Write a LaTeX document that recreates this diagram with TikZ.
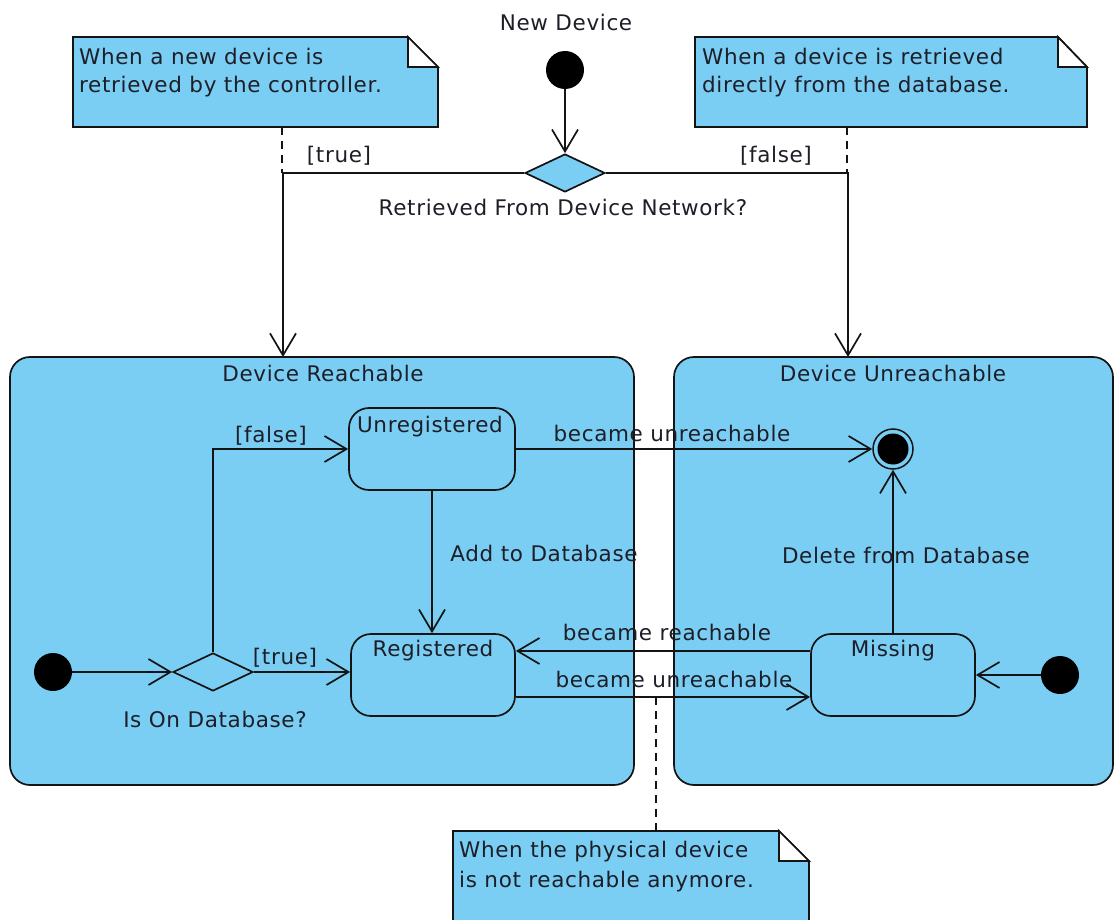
\documentclass[tikz,border=0pt]{standalone}
\usepackage{fontspec}
\setmainfont{DejaVu Sans}[LetterSpace=3]
\usetikzlibrary{arrows.meta,shapes.geometric}

\definecolor{umlblue}{RGB}{122,206,243}
\definecolor{inkc}{RGB}{20,20,20}
\definecolor{textc}{RGB}{30,30,40}

\tikzset{
  lbl/.style={font=\fontsize{21.5pt}{26pt}\selectfont, text=textc, inner sep=0pt, anchor=base},
  composite/.style={draw=inkc, fill=umlblue, line width=1.7pt, rounded corners=20pt, inner sep=0pt},
  simplestate/.style={composite},
  startdot/.style={circle, fill=black, minimum size=38pt, inner sep=0pt},
  enddot/.style={circle, draw=inkc, line width=1.5pt, minimum size=40pt, inner sep=0pt},
  choice/.style={diamond, draw=inkc, fill=umlblue, line width=1.7pt, minimum width=80pt, minimum height=38pt, inner sep=0pt},
  trans/.style={draw=inkc, line width=1.7pt, -{Straight Barb[length=22pt,width=26pt]}},
  anchorline/.style={draw=inkc, line width=1.7pt, dash pattern=on 8pt off 6pt},
  notebody/.style={draw=inkc, fill=umlblue, line width=1.7pt, line join=miter},
  noteflap/.style={draw=inkc, fill=white, line width=1.7pt, line join=miter},
}

\begin{document}
\begin{tikzpicture}[x=1pt,y=-1pt]
\useasboundingbox (0,0) rectangle (1114,920);
\clip (0,0) rectangle (1114,920);
\fill[white] (0,0) rectangle (1114,920);

% ---- composite states
\node[composite, minimum width=624pt, minimum height=428pt] (reach) at (322,571) {};
\node[composite, minimum width=439pt, minimum height=428pt] (unreach) at (893.5,571) {};
\node[lbl] (reachT) at (323,381) {Device Reachable};
\node[lbl] (unreachT) at (893,381) {Device Unreachable};

% ---- entry decision
\node[lbl] (newT) at (566,31) {New Device};
\node[startdot] (i0) at (565,70) {};
\node[choice] (d0) at (565,173) {};
\node[lbl] (d0T) at (563,216) {Retrieved From Device Network?};
\coordinate (reachIn) at (283,357);
\coordinate (unreachIn) at (848,357);
\draw[trans] (i0) -- (d0.north);
\draw[trans] (d0.west) -| (reachIn);
\draw[trans] (d0.east) -| (unreachIn);
\node[lbl] (trueT) at (339,163) {[true]};
\node[lbl] (falseT) at (776,163) {[false]};

% ---- notes at the top
\path[notebody] (73,37) -- (408,37) -- (438,67) -- (438,127) -- (73,127) -- cycle;
\path[noteflap] (408,37) -- (408,67) -- (438,67) -- cycle;
\node[lbl, anchor=base west] (n1T) at (79,65)
  {\vtop{\baselineskip=28pt\hbox{When a new device is}\hbox{retrieved by the controller.}}};
\coordinate (n1) at (282,127);
\draw[anchorline] (n1) -- (n1 |- d0.west);

\path[notebody] (695,37) -- (1058,37) -- (1087,67) -- (1087,127) -- (695,127) -- cycle;
\path[noteflap] (1058,37) -- (1058,67) -- (1087,67) -- cycle;
\node[lbl, anchor=base west] (n2T) at (702,65)
  {\vtop{\baselineskip=28pt\hbox{When a device is retrieved}\hbox{directly from the database.}}};
\coordinate (n2) at (847,127);
\draw[anchorline] (n2) -- (n2 |- d0.east);

% ---- inner states
\node[simplestate, minimum width=166pt, minimum height=82pt] (unreg) at (432,449) {};
\node[simplestate, minimum width=164pt, minimum height=82pt] (reg) at (433,675) {};
\node[simplestate, minimum width=164pt, minimum height=82pt] (miss) at (893,675) {};
\node[lbl] (unregT) at (430,432) {Unregistered};
\node[lbl] (regT) at (433,656) {Registered};
\node[lbl] (missT) at (893,656) {Missing};

\node[enddot] (fin) at (893,449) {};
\fill[black] (fin.center) circle (15.5);

\node[startdot] (i1) at (53,672) {};
\node[choice] (d1) at (213,672) {};
\node[lbl] (d1T) at (215,727) {Is On Database?};
\node[startdot] (i2) at (1060,675) {};

% ---- transitions
\draw[trans] (i1) -- (d1.west);
\draw[trans] (d1.east) -- (d1.east -| reg.west);
\node[lbl] (true2T) at (285,664) {[true]};
\draw[trans] (d1.north) |- (unreg.west);
\node[lbl] (false2T) at (271,442) {[false]};

\draw[trans] (unreg.east) -- (fin.west);
\node[lbl] (lost1T) at (672,441) {became unreachable};

\draw[trans] (unreg.south) -- (unreg.south |- reg.north);
\node[lbl] (addT) at (544,561) {Add to Database};

\draw[trans] (miss.north) -- (fin.south);
\node[lbl] (delT) at (906,563) {Delete from Database};

\coordinate (backOut) at ([yshift=24pt]miss.west);
\draw[trans] (backOut) -- (backOut -| reg.east);
\node[lbl] (backT) at (667,640) {became reachable};

\coordinate (lostOut) at ([yshift=-22pt]reg.east);
\draw[trans] (lostOut) -- (lostOut -| miss.west);
\node[lbl] (lost2T) at (674,687) {became unreachable};

\draw[trans] (i2) -- (i2 -| miss.east);

% ---- note at the bottom
\path[notebody] (453,831) -- (779,831) -- (809,861) -- (809,940) -- (453,940) -- cycle;
\path[noteflap] (779,831) -- (779,861) -- (809,861) -- cycle;
\node[lbl, anchor=base west] (n3T) at (459,857)
  {\vtop{\baselineskip=30pt\hbox{When the physical device}\hbox{is not reachable anymore.}}};
\coordinate (n3) at (656,831);
\draw[anchorline] (n3) -- (n3 |- lostOut);
\end{tikzpicture}
\end{document}
